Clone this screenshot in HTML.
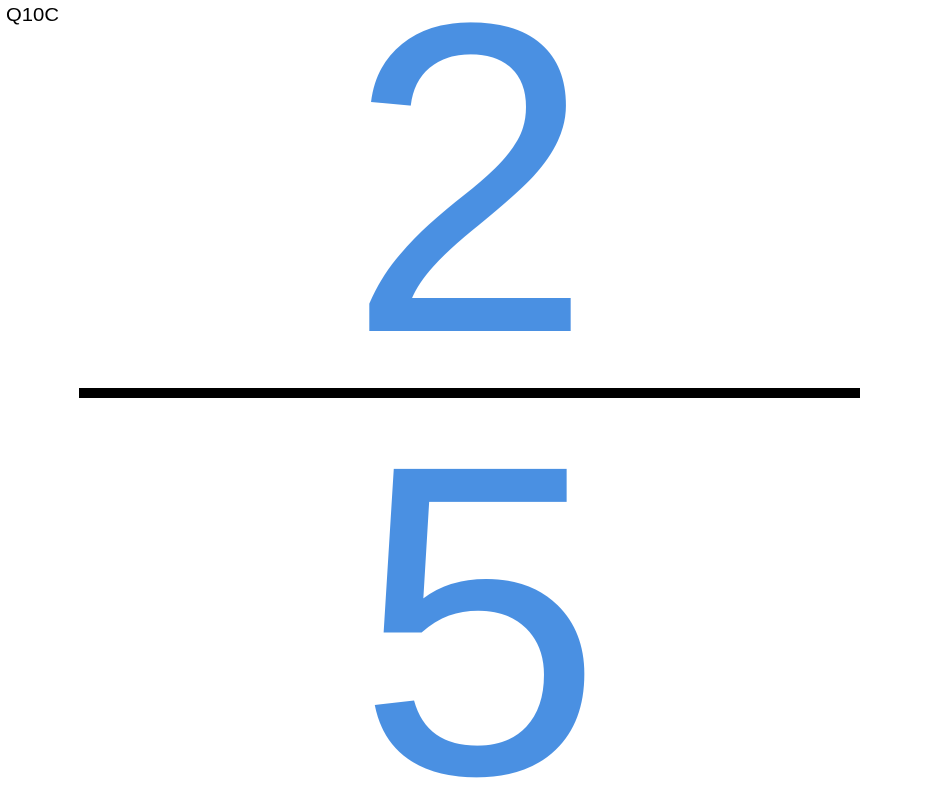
<!DOCTYPE html>
<html>
<head>
<meta charset="utf-8">
<style>
  html, body { margin: 0; padding: 0; background: #ffffff; overflow: hidden; }
  body { width: 940px; height: 788px; overflow: hidden; position: relative; }
  svg { display: block; overflow: hidden; }
</style>
</head>
<body>
<svg width="940" height="788" viewBox="0 0 940 788">
  <text x="6" y="21" font-family="Liberation Sans, sans-serif" font-size="18" textLength="53" lengthAdjust="spacingAndGlyphs" fill="#000">Q10C</text>
  <text x="470" y="331" text-anchor="middle" font-family="Liberation Sans, sans-serif" font-size="442" fill="#4A90E2">2</text>
  <rect x="79" y="388" width="781" height="10" fill="#000"/>
  <text x="480" y="773" text-anchor="middle" font-family="Liberation Sans, sans-serif" font-size="442" fill="#4A90E2">5</text>
</svg>
</body>
</html>
